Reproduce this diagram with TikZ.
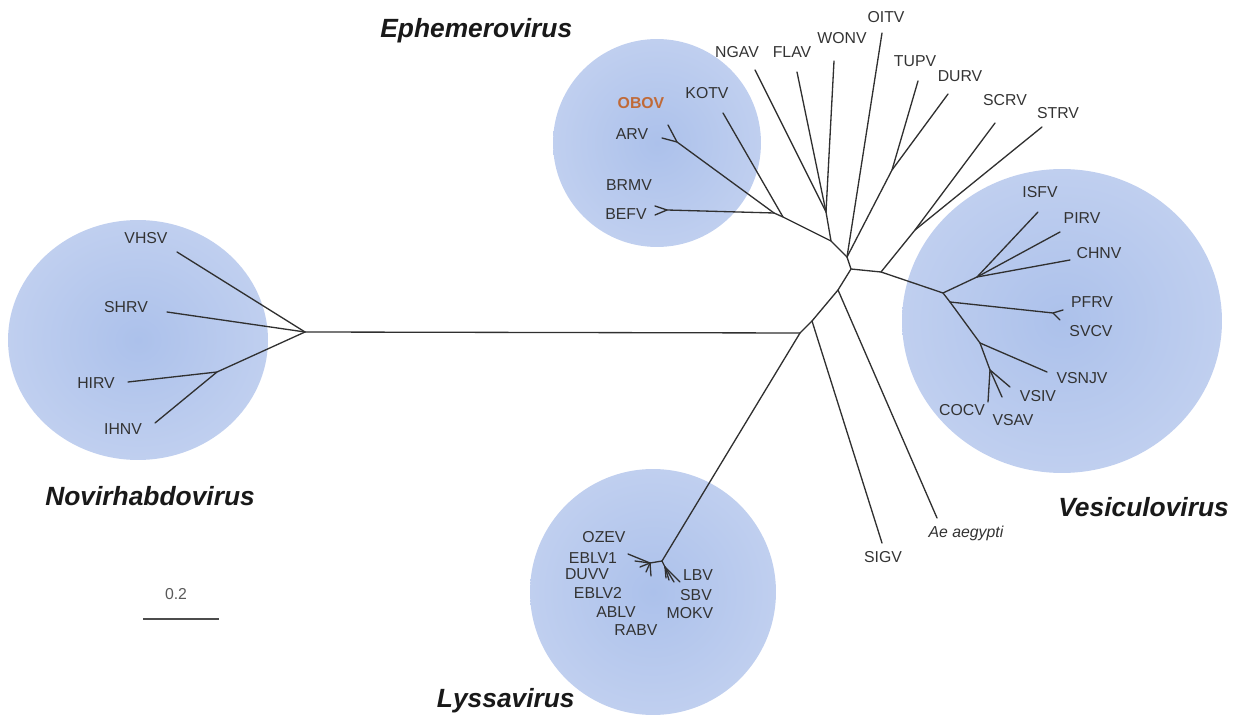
\documentclass[tikz,border=0pt]{standalone}
\usepackage{fontspec}
\setmainfont{Liberation Sans}
\definecolor{cladein}{RGB}{172,193,235}
\definecolor{cladeout}{RGB}{210,220,243}
\definecolor{obovcol}{RGB}{192,106,56}
\definecolor{branchcol}{RGB}{48,48,48}
\pgfdeclareradialshading{cladeglow}{\pgfpoint{0bp}{0bp}}{color(0bp)=(cladein); color(24bp)=(cladein!50!cladeout); color(44bp)=(cladeout); color(50bp)=(cladeout!70!white)}

\begin{document}
\begin{tikzpicture}[x=0.02cm, y=-0.02cm,
	branch/.style={draw=branchcol, line width=0.75pt, line cap=round, line join=round},
	taxon/.style={font=\fontsize{9}{10}\selectfont, text=black!80, inner sep=0pt},
	genus/.style={font=\fontsize{15}{17}\selectfont\bfseries\itshape, text=black!90, inner sep=0pt},
	clade/.style={shading=cladeglow}]
	\useasboundingbox (0,0) rectangle (1250,722);
	% shaded genus circles
	\shade[clade] (138,340) ellipse [x radius=2.6cm, y radius=2.4cm];
	\shade[clade] (657,143) circle (2.08cm);
	\shade[clade] (1062,321) ellipse [x radius=3.2cm, y radius=3.04cm];
	\shade[clade] (653,592) circle (2.46cm);
	% inner nodes of the tree
	\coordinate (root) at (800,333);
	\coordinate (nSI) at (812,321);
	\coordinate (nAe) at (838,290);
	\coordinate (hub) at (851,269);
	\coordinate (nC) at (847,257);
	\coordinate (nB) at (831,241);
	\coordinate (nFW) at (826,212);
	\coordinate (nK) at (783,217);
	\coordinate (nEph) at (774,213);
	\coordinate (nAO) at (677,142);
	\coordinate (nBB) at (667,210);
	\coordinate (nTD) at (892,170);
	\coordinate (nV) at (881,272);
	\coordinate (nSS) at (915,230);
	\coordinate (nVes) at (943,293);
	\coordinate (nVes2) at (950,302);
	\coordinate (nICP) at (977,277);
	\coordinate (nPS) at (1053,313);
	\coordinate (nVN) at (980,343);
	\coordinate (nVC) at (990,370);
	\coordinate (nNov) at (305,332);
	\coordinate (nHI) at (217,372);
	\coordinate (nLys) at (662,561);
	\coordinate (nLL) at (650,563);
	\coordinate (nLR) at (665,567);
	% tips
	\coordinate (tVHSV) at (177,252);
	\coordinate (tSHRV) at (167,312);
	\coordinate (tHIRV) at (128,382);
	\coordinate (tIHNV) at (155,423);
	\coordinate (tOBOV) at (668,125);
	\coordinate (tARV) at (662,138);
	\coordinate (tBRMV) at (655,206);
	\coordinate (tBEFV) at (655,215);
	\coordinate (tKOTV) at (723,113);
	\coordinate (tNGAV) at (755,70);
	\coordinate (tFLAV) at (797,72);
	\coordinate (tWONV) at (834,61);
	\coordinate (tOITV) at (882,33);
	\coordinate (tTUPV) at (918,81);
	\coordinate (tDURV) at (948,94);
	\coordinate (tSCRV) at (995,123);
	\coordinate (tSTRV) at (1042,127);
	\coordinate (tISFV) at (1038,212);
	\coordinate (tPIRV) at (1060,232);
	\coordinate (tCHNV) at (1070,260);
	\coordinate (tPFRV) at (1063,310);
	\coordinate (tSVCV) at (1060,320);
	\coordinate (tVSNJV) at (1047,372);
	\coordinate (tVSIV) at (1010,387);
	\coordinate (tVSAV) at (1002,397);
	\coordinate (tCOCV) at (988,402);
	\coordinate (tAe) at (937,518);
	\coordinate (tSIGV) at (882,543);

	% backbone
	\draw[branch] (nNov) -- (root) -- (nSI) -- (nAe) -- (hub) -- (nC) -- (nB) -- (nK) -- (nEph);
	\draw[branch] (root) -- (nLys);
	\draw[branch] (nSI) -- (tSIGV);
	\draw[branch] (nAe) -- (tAe);
	% Novirhabdovirus
	\draw[branch] (nNov) -- (tVHSV);
	\draw[branch] (nNov) -- (tSHRV);
	\draw[branch] (nNov) -- (nHI) -- (tHIRV);
	\draw[branch] (nHI) -- (tIHNV);
	% Ephemerovirus and neighbours
	\draw[branch] (nEph) -- (nAO) -- (tOBOV);
	\draw[branch] (nAO) -- (tARV);
	\draw[branch] (nEph) -- (nBB) -- (tBRMV);
	\draw[branch] (nBB) -- (tBEFV);
	\draw[branch] (nK) -- (tKOTV);
	\draw[branch] (nB) -- (nFW) -- (tNGAV);
	\draw[branch] (nFW) -- (tFLAV);
	\draw[branch] (nFW) -- (tWONV);
	\draw[branch] (nC) -- (tOITV);
	\draw[branch] (nC) -- (nTD) -- (tTUPV);
	\draw[branch] (nTD) -- (tDURV);
	% Vesiculovirus and neighbours
	\draw[branch] (hub) -- (nV) -- (nSS) -- (tSCRV);
	\draw[branch] (nSS) -- (tSTRV);
	\draw[branch] (nV) -- (nVes) -- (nICP) -- (tISFV);
	\draw[branch] (nICP) -- (tPIRV);
	\draw[branch] (nICP) -- (tCHNV);
	\draw[branch] (nVes) -- (nVes2) -- (nPS) -- (tPFRV);
	\draw[branch] (nPS) -- (tSVCV);
	\draw[branch] (nVes2) -- (nVN) -- (tVSNJV);
	\draw[branch] (nVN) -- (nVC) -- (tVSIV);
	\draw[branch] (nVC) -- (tVSAV);
	\draw[branch] (nVC) -- (tCOCV);
	% Lyssavirus brush
	\draw[branch] (nLys) -- (nLL);
	\draw[branch] (nLys) -- (nLR);
	\foreach \tx/\ty [count=\i] in {628/554, 635/561, 640/567, 646/572, 651/576} {
		\coordinate (lyL\i) at (\tx,\ty);
		\draw[branch] (nLL) -- (lyL\i);
	}
	\foreach \tx/\ty [count=\i] in {680/582, 674/582, 669/580, 666/578} {
		\coordinate (lyR\i) at (\tx,\ty);
		\draw[branch] (nLR) -- (lyR\i);
	}

	% taxon labels
	\node[taxon, text=obovcol, font=\fontsize{9}{10}\selectfont\bfseries] (OBOV) at (641,103) {OBOV};
	\node[taxon] (ARV) at (632,134) {ARV};
	\node[taxon] (BRMV) at (629,185) {BRMV};
	\node[taxon] (BEFV) at (626,214) {BEFV};
	\node[taxon] (KOTV) at (707,93) {KOTV};
	\node[taxon] (NGAV) at (737,52) {NGAV};
	\node[taxon] (FLAV) at (792,52) {FLAV};
	\node[taxon] (WONV) at (842,38) {WONV};
	\node[taxon] (OITV) at (886,17) {OITV};
	\node[taxon] (TUPV) at (915,61) {TUPV};
	\node[taxon] (DURV) at (960,76) {DURV};
	\node[taxon] (SCRV) at (1005,100) {SCRV};
	\node[taxon] (STRV) at (1058,113) {STRV};
	\node[taxon] (ISFV) at (1040,192) {ISFV};
	\node[taxon] (PIRV) at (1082,218) {PIRV};
	\node[taxon] (CHNV) at (1099,253) {CHNV};
	\node[taxon] (PFRV) at (1092,302) {PFRV};
	\node[taxon] (SVCV) at (1091,331) {SVCV};
	\node[taxon] (VSNJV) at (1082,378) {VSNJV};
	\node[taxon] (VSIV) at (1038,396) {VSIV};
	\node[taxon] (COCV) at (962,410) {COCV};
	\node[taxon] (VSAV) at (1013,420) {VSAV};
	\node[taxon, anchor=base, font=\fontsize{9}{10}\selectfont\itshape] (Aeae) at (966,537) {Ae aegypti};
	\node[taxon] (SIGV) at (883,557) {SIGV};
	\node[taxon] (VHSV) at (146,238) {VHSV};
	\node[taxon] (SHRV) at (126,307) {SHRV};
	\node[taxon] (HIRV) at (96,383) {HIRV};
	\node[taxon] (IHNV) at (123,429) {IHNV};
	\node[taxon] (OZEV) at (604,537) {OZEV};
	\node[taxon] (EBLVa) at (593,558) {EBLV1};
	\node[taxon] (DUVV) at (587,574) {DUVV};
	\node[taxon] (EBLVb) at (598,593) {EBLV2};
	\node[taxon] (ABLV) at (616,612) {ABLV};
	\node[taxon] (RABV) at (636,630) {RABV};
	\node[taxon] (LBV) at (698,575) {LBV};
	\node[taxon] (SBV) at (696,595) {SBV};
	\node[taxon] (MOKV) at (690,613) {MOKV};
	% genus names
	\node[genus, anchor=base west] (Ephemero) at (380,38) {Ephemerovirus};
	\node[genus, anchor=base west] (Novirhabdo) at (45,505) {Novirhabdovirus};
	\node[genus, anchor=base west] (Vesiculo) at (1058,516) {Vesiculovirus};
	\node[genus, anchor=base east] (Lyssa) at (575,707) {Lyssavirus};
	% scale bar
	\coordinate (sbL) at (143,619);
	\coordinate (sbR) at (219,619);
	\draw[draw=black!70, line width=0.75pt] (sbL) -- (sbR);
	\node[taxon, text=black!65] (scale) at (176,594) {0.2};
\end{tikzpicture}
\end{document}
